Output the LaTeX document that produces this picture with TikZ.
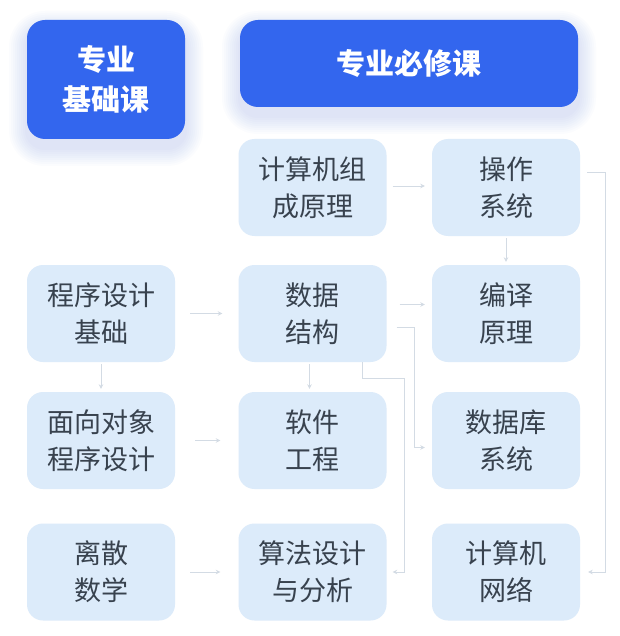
\documentclass[tikz,border=0pt]{standalone}
\usepackage{fontspec}
\setmainfont{Noto Sans CJK SC}
\usetikzlibrary{arrows.meta}
\definecolor{hdr}{HTML}{3366EE}
\definecolor{lbox}{HTML}{DCEBFA}
\definecolor{txt}{HTML}{38424E}
\definecolor{conn}{HTML}{D3DBE4}
\definecolor{glowc}{HTML}{6C8FF5}
\begin{document}
\begin{tikzpicture}[x=1pt,y=-1pt,
  course/.style={rectangle, rounded corners=16pt, fill=lbox, minimum width=148pt, minimum height=97pt,
    text=txt, font=\fontsize{27}{37}\selectfont, align=center, inner sep=0pt},
  header/.style={rectangle, rounded corners=18pt, fill=hdr, text=white,
    font=\bfseries\fontsize{29}{40}\selectfont, align=center, inner sep=0pt},
  link/.style={draw=conn, line width=0.9pt, -{Stealth[length=4.5pt,width=4.5pt]}},
  glow/.style={fill=glowc, opacity=0.022}]
\useasboundingbox (0,0) rectangle (619,636);
\fill[white] (0,0) rectangle (619,636);
% header glows
\foreach \d in {2,4,...,18}{
  \fill[glow, rounded corners={18pt+\d pt}] (27-\d, 20-\d+9) rectangle (185+\d, 139+\d+9);
  \fill[glow, rounded corners={18pt+\d pt}] (240-\d, 20-\d+9) rectangle (578+\d, 107+\d+9);
}
% headers
\node[header, minimum width=158pt, minimum height=119pt] (jc) at (106,79.5) {专业\\基础课};
\node[header, minimum width=338pt, minimum height=87pt] (bx) at (409,63.5) {专业必修课};
% courses
\node[course] (jz) at (312.5,187.5) {计算机组\\成原理};
\node[course] (cz) at (506,187.5) {操作\\系统};
\node[course] (cx) at (101,313.5) {程序设计\\基础};
\node[course] (sj) at (312.5,313.5) {数据\\结构};
\node[course] (by) at (506,313.5) {编译\\原理};
\node[course] (mx) at (101,440.5) {面向对象\\程序设计};
\node[course] (rj) at (312.5,440.5) {软件\\工程};
\node[course] (sk) at (506,440.5) {数据库\\系统};
\node[course] (ls) at (101,572) {离散\\数学};
\node[course] (sf) at (312.5,572) {算法设计\\与分析};
\node[course] (wl) at (506,572) {计算机\\网络};
% connectors
\draw[link] ([xshift=6pt,yshift=1.5pt]jz.east) -- ([xshift=-7pt,yshift=1.5pt]cz.west);
\draw[link] ([yshift=-2pt]cz.south) -- ([yshift=3pt]by.north);
\draw[link] ([xshift=15pt]cx.east) -- ([xshift=-16pt]sj.west);
\draw[link] ([yshift=-2pt]cx.south) -- ([yshift=3pt]mx.north);
\draw[link] ([xshift=20pt]mx.east) -- ([xshift=-18pt]rj.west);
\draw[link] ([xshift=15pt]ls.east) -- ([xshift=-18pt]sf.west);
\draw[link] ([xshift=13pt,yshift=9pt]sj.east) -- ([xshift=-7pt,yshift=9pt]by.west);
\draw[link] ([xshift=-3pt,yshift=-2pt]sj.south) -- ([xshift=-3pt,yshift=3pt]rj.north);
\draw[link] ([xshift=10pt,yshift=-14pt]sj.east) -- ++(18,0) |- ([xshift=-7pt,yshift=-7pt]sk.west);
\draw[link] ([xshift=50pt]sj.south) -- ++(0,16) -- ++(42,0) |- ([xshift=6pt]sf.east);
\draw[link] ([xshift=7pt,yshift=15pt]cz.east) -- ++(18,0) |- ([xshift=8pt]wl.east);
\end{tikzpicture}
\end{document}
